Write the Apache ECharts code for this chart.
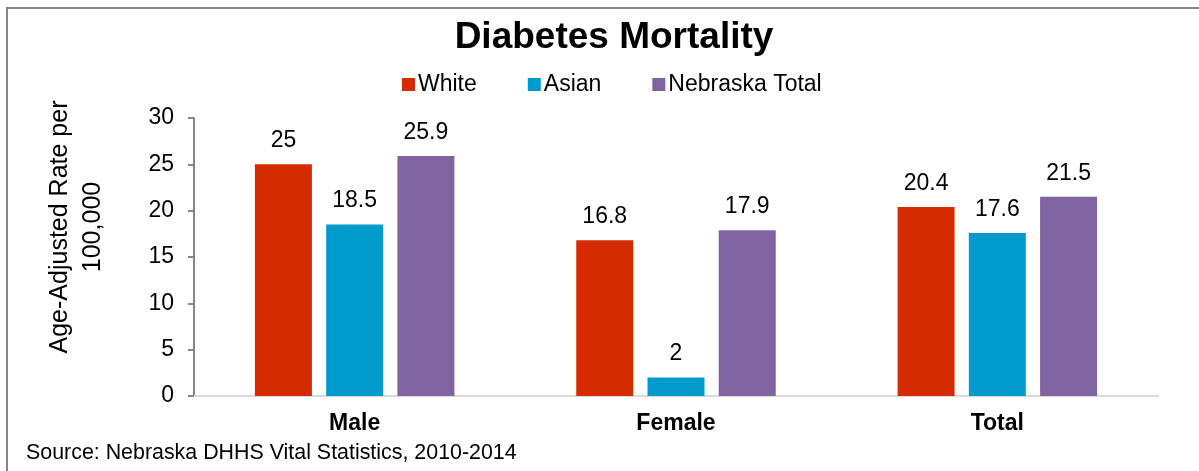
<!DOCTYPE html>
<html>
<head>
<meta charset="utf-8">
<title>Diabetes Mortality</title>
<script src="https://cdn.jsdelivr.net/npm/echarts@6/dist/echarts.min.js"></script>
<style>
  html, body { margin: 0; padding: 0; background: #fff; }
  #chart { width: 1199px; height: 471px; }
</style>
</head>
<body>
<div id="chart"></div>
<script>
// data
var categories = ['Male', 'Female', 'Total']
var seriesNames = ['White', 'Asian', 'Nebraska Total']
var white = [25, 16.8, 20.4]
var asian = [18.5, 2, 17.6]
var nebraskaTotal = [25.9, 17.9, 21.5]
var colors = ['#D52B00', '#009BCD', '#8064A2']

var font = 'Arial, "Liberation Sans", sans-serif'

function barSeries(name, values, color) {
  return {
    name: name,
    type: 'bar',
    data: values,
    barWidth: 57,
    barGap: '25%',
    itemStyle: { color: color },
    label: {
      show: true,
      position: 'top',
      distance: 12,
      color: '#000',
      fontSize: 23,
      fontFamily: font
    }
  }
}

var chart = echarts.init(document.getElementById('chart'))
chart.setOption({
  animation: false,
  title: {
    text: 'Diabetes Mortality',
    left: 609,
    textAlign: 'center',
    top: 14,
    textStyle: {
      color: '#000',
      fontSize: 37,
      fontWeight: 'bold',
      fontFamily: font
    }
  },
  legend: {
    data: seriesNames,
    left: 397,
    top: 68,
    itemWidth: 13,
    itemHeight: 13,
    itemGap: 51,
    icon: 'rect',
    selectedMode: false,
    textStyle: {
      color: '#000',
      fontSize: 23,
      fontFamily: font,
      padding: [0, 0, 0, -2]
    }
  },
  grid: {
    left: 194,
    right: 41,
    top: 118,
    bottom: 75
  },
  xAxis: {
    type: 'category',
    data: categories,
    axisTick: { show: false },
    axisLine: { lineStyle: { color: '#D9D9D9', width: 2 } },
    axisLabel: {
      color: '#000',
      fontSize: 23,
      fontWeight: 'bold',
      fontFamily: font,
      margin: 16
    }
  },
  yAxis: {
    type: 'value',
    min: 0,
    max: 30,
    interval: 5,
    name: 'Age-Adjusted Rate per\n100,000',
    nameLocation: 'middle',
    nameGap: 84,
    nameTextStyle: {
      color: '#000',
      fontSize: 25,
      fontFamily: font,
      lineHeight: 33,
      padding: [0, 0, 0, 60]
    },
    axisLine: { show: true, lineStyle: { color: '#868686', width: 2 } },
    axisTick: { show: true, inside: false, length: 6, lineStyle: { color: '#868686', width: 2 } },
    splitLine: { show: false },
    axisLabel: {
      color: '#000',
      fontSize: 23,
      fontFamily: font,
      margin: 20
    }
  },
  graphic: [
    {
      type: 'rect',
      shape: { x: 7, y: 8, width: 1300, height: 600 },
      style: { fill: 'none', stroke: '#868686', lineWidth: 2 },
      silent: true
    },
    {
      type: 'text',
      left: 26,
      top: 443,
      style: {
        text: 'Source: Nebraska DHHS Vital Statistics, 2010-2014',
        fill: '#000',
        fontSize: 21.4,
        fontFamily: font
      }
    }
  ],
  series: [
    barSeries(seriesNames[0], white, colors[0]),
    barSeries(seriesNames[1], asian, colors[1]),
    barSeries(seriesNames[2], nebraskaTotal, colors[2])
  ]
})
</script>
</body>
</html>
